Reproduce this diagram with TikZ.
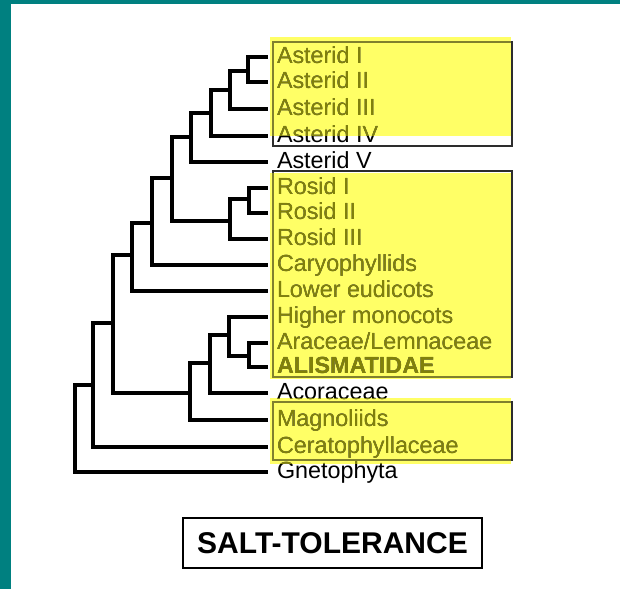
\documentclass[tikz,border=0pt]{standalone}
\usepackage{fontspec}
\setmainfont{Liberation Sans}

\tikzset{
  branch/.style={line width=3.2pt, line join=miter},
  taxon/.style={anchor=west, inner xsep=0pt, inner ysep=0pt, outer xsep=6.75pt,
    text height=12pt, text depth=3pt, font=\fontsize{17.5}{20}\selectfont},
  hilite/.style={fill={rgb, 255:red, 255; green, 255; blue, 102 }},
  frame/.style={draw={rgb, 255:red, 45; green, 45; blue, 45 }, line width=1.5pt},
  tint/.style={fill={rgb, 255:red, 128; green, 128; blue, 10 }},
  edge/.style={fill={rgb, 255:red, 0; green, 128; blue, 128 }},
}

\begin{document}
\begin{tikzpicture}[x=0.75pt,y=0.75pt,yscale=-1,xscale=1]
\useasboundingbox (0,0) rectangle (620,589);

%Teal border (top and left)
\fill[edge] (0,0) rectangle (620,4);
\fill[edge] (0,0) rectangle (11,589);

%Yellow highlights
\fill[hilite] (270,37) rectangle (511,136);
\fill[hilite] (270,173) rectangle (511,379);
\fill[hilite] (270,398) rectangle (511,464);

%Frames round the groups
\draw[frame] (273,42) rectangle (512,146);
\draw[frame] (273,171) rectangle (512,377);
\draw[frame] (273,402) rectangle (512,460);

%Taxa
\node[taxon] (ast1) at (268,57) {Asterid I};
\node[taxon] (ast2) at (268,82) {Asterid II};
\node[taxon] (ast3) at (268,109) {Asterid III};
\node[taxon] (ast4) at (268,136) {Asterid IV};
\node[taxon] (ast5) at (268,162) {Asterid V};
\node[taxon] (ros1) at (268,188) {Rosid I};
\node[taxon] (ros2) at (268,213) {Rosid II};
\node[taxon] (ros3) at (268,239) {Rosid III};
\node[taxon] (car) at (268,265) {Caryophyllids};
\node[taxon] (low) at (268,291) {Lower eudicots};
\node[taxon] (hig) at (268,317) {Higher monocots};
\node[taxon] (ara) at (268,343) {Araceae/Lemnaceae};
\node[taxon] (ali) at (268,367) {\bfseries ALISMATIDAE};
\node[taxon] (aco) at (268,393) {Acoraceae};
\node[taxon] (mag) at (268,420) {Magnoliids};
\node[taxon] (cet) at (268,447) {Ceratophyllaceae};
\node[taxon] (gne) at (268,472) {Gnetophyta};

%Internal nodes
\coordinate (a12) at (248,71);
\coordinate (a123) at (230,90);
\coordinate (a1234) at (211,113);
\coordinate (ast) at (191,137);
\coordinate (r12) at (249,199);
\coordinate (ros) at (230,221);
\coordinate (ar) at (172,178);
\coordinate (arc) at (152,223);
\coordinate (eud) at (132,255);
\coordinate (al) at (249,356);
\coordinate (hm) at (229,335);
\coordinate (mono) at (210,363);
\coordinate (mm) at (190,393);
\coordinate (core) at (113,323);
\coordinate (cer) at (93,385);
\coordinate (root) at (75,430);

%Branches
\draw[branch] (a12) |- (ast1.west) (a12) |- (ast2.west);
\draw[branch] (a123) |- (a12) (a123) |- (ast3.west);
\draw[branch] (a1234) |- (a123) (a1234) |- (ast4.west);
\draw[branch] (ast) |- (a1234) (ast) |- (ast5.west);
\draw[branch] (r12) |- (ros1.west) (r12) |- (ros2.west);
\draw[branch] (ros) |- (r12) (ros) |- (ros3.west);
\draw[branch] (ar) |- (ast) (ar) |- (ros);
\draw[branch] (arc) |- (ar) (arc) |- (car.west);
\draw[branch] (eud) |- (arc) (eud) |- (low.west);
\draw[branch] (al) |- (ara.west) (al) |- (ali.west);
\draw[branch] (hm) |- (hig.west) (hm) |- (al);
\draw[branch] (mono) |- (hm) (mono) |- (aco.west);
\draw[branch] (mm) |- (mono) (mm) |- (mag.west);
\draw[branch] (core) |- (eud) (core) |- (mm);
\draw[branch] (cer) |- (core) (cer) |- (cet.west);
\draw[branch] (root) |- (cer) (root) |- (gne.west);

%Tint the dark ink lying on the yellow
\begin{scope}[blend mode=lighten]
\fill[tint] (270,37) rectangle (511,136);
\fill[tint] (270,173) rectangle (511,379);
\fill[tint] (270,398) rectangle (511,464);
\end{scope}

%Caption
\node[draw, line width=1.6pt, minimum width=224pt, minimum height=37.5pt, inner sep=0pt,
  font=\fontsize{22.5}{26}\selectfont\bfseries] (salt) at (332.5,543) {SALT-TOLERANCE};

\end{tikzpicture}
\end{document}
